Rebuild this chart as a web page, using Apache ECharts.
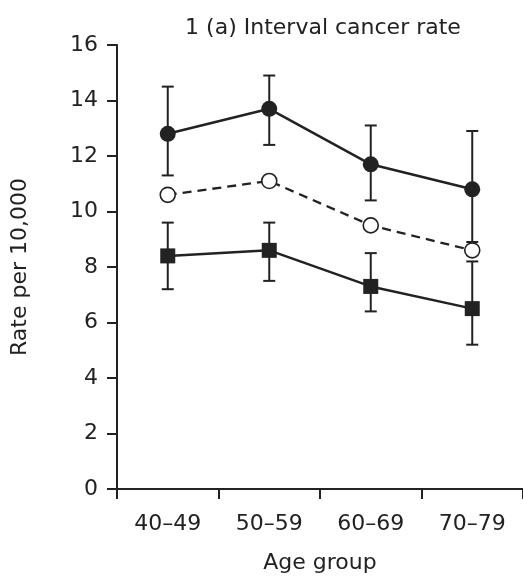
<!DOCTYPE html>
<html>
<head>
<meta charset="utf-8">
<script src="https://cdn.jsdelivr.net/npm/echarts@6/dist/echarts.min.js"></script>
<style>
  html, body { margin: 0; padding: 0; background: #fff; }
  #chart { width: 523px; height: 576px; }
</style>
</head>
<body>
<div id="chart"></div>
<script>
// age groups on the x axis
var ageGroups = ['40\u201349', '50\u201359', '60\u201369', '70\u201379'];
var yTicks = [0, 2, 4, 6, 8, 10, 12, 14, 16];

// upper line, filled circles
var upperRate = [12.8, 13.7, 11.7, 10.8];
var upperLow = [11.3, 12.4, 10.4, 8.9];
var upperHigh = [14.5, 14.9, 13.1, 12.9];

// middle line, open circles (dashed)
var midRate = [10.6, 11.1, 9.5, 8.6];

// lower line, squares
var lowerRate = [8.4, 8.6, 7.3, 6.5];
var lowerLow = [7.2, 7.5, 6.4, 5.2];
var lowerHigh = [9.6, 9.6, 8.5, 8.2];

var ink = '#222';
var fontFam = '"DejaVu Sans", sans-serif';

function errData(lo, hi) {
    return lo.map(function (v, i) { return [i, v, hi[i]]; });
}

function renderErr(params, api) {
    var lo = api.coord([api.value(0), api.value(1)]);
    var hi = api.coord([api.value(0), api.value(2)]);
    var w = 6;
    var st = { stroke: ink, lineWidth: 2 };
    return {
        type: 'group',
        children: [
            { type: 'line', shape: { x1: lo[0], y1: lo[1], x2: hi[0], y2: hi[1] }, style: st },
            { type: 'line', shape: { x1: lo[0] - w, y1: lo[1], x2: lo[0] + w, y2: lo[1] }, style: st },
            { type: 'line', shape: { x1: hi[0] - w, y1: hi[1], x2: hi[0] + w, y2: hi[1] }, style: st }
        ]
    };
}

var myChart = echarts.init(document.getElementById('chart'));
var option = {
    animation: false,
    backgroundColor: '#fff',
    textStyle: { fontFamily: fontFam, color: ink },
    title: {
        text: '1 (a) Interval cancer rate',
        left: 318,
        textAlign: 'center',
        top: 12,
        textStyle: { fontFamily: fontFam, fontSize: 22, fontWeight: 'normal', color: ink }
    },
    grid: { left: 117, right: 0, top: 45, bottom: 87, outerBoundsMode: 'none', containLabel: false },
    xAxis: {
        type: 'category',
        data: ageGroups,
        boundaryGap: true,
        name: 'Age group',
        nameLocation: 'middle',
        nameGap: 63,
        nameTextStyle: { fontFamily: fontFam, fontSize: 22, color: ink, verticalAlign: 'top' },
        axisLine: { lineStyle: { color: ink, width: 2 } },
        axisTick: { show: true, length: 10, inside: false, lineStyle: { color: ink, width: 2 } },
        axisLabel: { fontFamily: fontFam, fontSize: 22, color: ink, margin: 24 },
        splitLine: { show: false }
    },
    yAxis: {
        type: 'value',
        min: yTicks[0],
        max: yTicks[yTicks.length - 1],
        interval: 2,
        name: 'Rate per 10,000',
        nameLocation: 'middle',
        nameGap: 86,
        nameRotate: 90,
        nameTextStyle: { fontFamily: fontFam, fontSize: 22, color: ink },
        axisLine: { show: true, lineStyle: { color: ink, width: 2 } },
        axisTick: { show: true, length: 10, inside: false, lineStyle: { color: ink, width: 2 } },
        axisLabel: { fontFamily: fontFam, fontSize: 22, color: ink, margin: 19 },
        splitLine: { show: false }
    },
    series: [
        {
            type: 'custom',
            renderItem: renderErr,
            data: errData(upperLow, upperHigh),
            encode: { x: 0, y: [1, 2] },
            z: 2
        },
        {
            type: 'custom',
            renderItem: renderErr,
            data: errData(lowerLow, lowerHigh),
            encode: { x: 0, y: [1, 2] },
            z: 2
        },
        {
            name: 'upper',
            type: 'line',
            data: upperRate,
            symbol: 'circle',
            symbolSize: 16,
            lineStyle: { color: ink, width: 2.5 },
            itemStyle: { color: ink, borderWidth: 0 },
            z: 3
        },
        {
            name: 'middle',
            type: 'line',
            data: midRate,
            symbol: 'circle',
            symbolSize: 15,
            showAllSymbol: true,
            lineStyle: { color: ink, width: 2.3, type: [9, 6] },
            itemStyle: { color: '#fff', borderColor: ink, borderWidth: 1.6 },
            z: 4
        },
        {
            name: 'lower',
            type: 'line',
            data: lowerRate,
            symbol: 'rect',
            symbolSize: 15,
            lineStyle: { color: ink, width: 2.5 },
            itemStyle: { color: ink, borderWidth: 0 },
            z: 3
        }
    ]
};
myChart.setOption(option);
</script>
</body>
</html>
